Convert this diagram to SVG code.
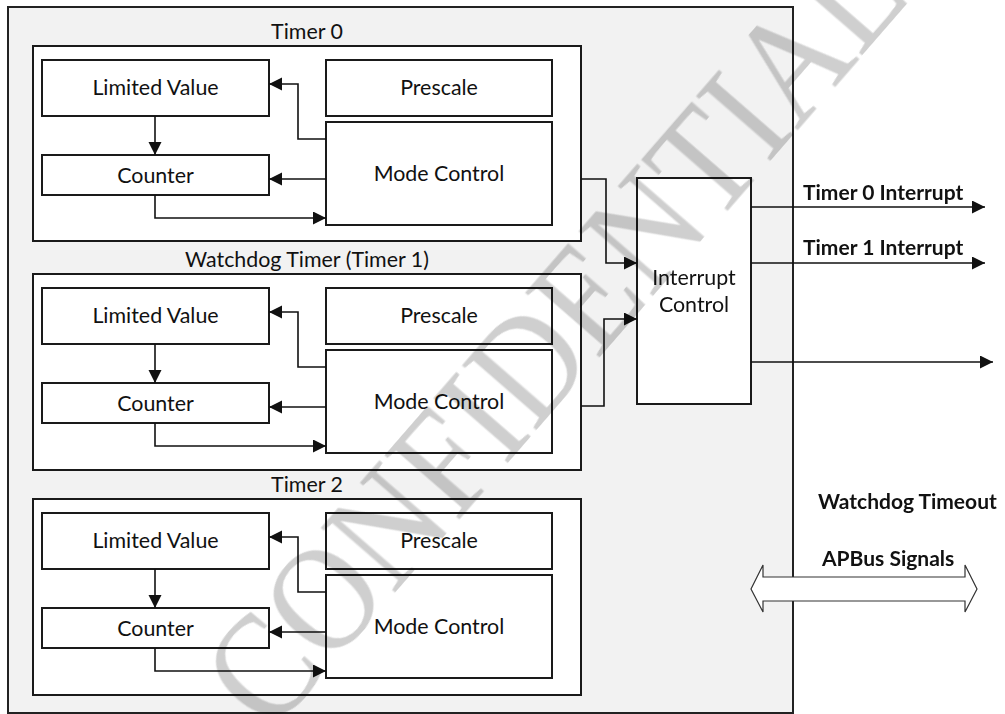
<svg xmlns="http://www.w3.org/2000/svg" width="1005" height="714" viewBox="0 0 1005 714">
  <style>
    .frame { fill: #f2f2f2; stroke: #222; stroke-width: 2; }
    .grp { fill: #ffffff; stroke: #1a1a1a; stroke-width: 2; }
    .blk { fill: #ffffff; stroke: #1a1a1a; stroke-width: 2; }
    .lbl { font-family: Lato, "Liberation Sans", sans-serif; font-size: 21.4px; fill: #111; text-anchor: middle; }
    .sig { font-family: Lato, "Liberation Sans", sans-serif; font-size: 21px; font-weight: bold; fill: #111; }
    .arr { fill: none; stroke: #111; stroke-width: 1.6; marker-end: url(#head); }
    .wm { font-family: "Liberation Serif", serif; font-size: 150px; fill: #cfcfcf; mix-blend-mode: multiply; }
  </style>
  <defs>
    <marker id="head" markerUnits="userSpaceOnUse" markerWidth="14" markerHeight="14" refX="13" refY="6.5" orient="auto">
      <path d="M0,0 L13,6.5 L0,13 z" fill="#111"/>
    </marker>
    <!-- one timer block: counter, limit register, prescaler, mode logic -->
    <g id="timerCore">
      <rect class="blk" x="42" y="60" width="227" height="56"/>
      <text class="lbl" x="155.5" y="95">Limited Value</text>
      <rect class="blk" x="42" y="155" width="227" height="40"/>
      <text class="lbl" x="155.5" y="182.5">Counter</text>
      <rect class="blk" x="326" y="60" width="226" height="56"/>
      <text class="lbl" x="439" y="95">Prescale</text>
      <rect class="blk" x="326" y="122" width="226" height="103"/>
      <text class="lbl" x="439" y="180.5">Mode Control</text>
      <path class="arr" d="M326,139 H298 V84 H269"/>
      <path class="arr" d="M326,179 H269"/>
      <path class="arr" d="M155,116 V155"/>
      <path class="arr" d="M155,195 V218 H326"/>
    </g>
  </defs>

  <!-- peripheral boundary -->
  <rect id="boundary" class="frame" x="8" y="7" width="785" height="706"/>

  <g id="timer0">
    <rect class="grp" x="33" y="46" width="548" height="195"/>
    <text class="lbl" x="307" y="39">Timer 0</text>
    <use href="#timerCore"/>
  </g>

  <g id="timer1">
    <rect class="grp" x="33" y="274" width="548" height="196"/>
    <text class="lbl" x="307" y="267">Watchdog Timer (Timer 1)</text>
    <use href="#timerCore" transform="translate(0,228)"/>
  </g>

  <g id="timer2">
    <rect class="grp" x="33" y="499" width="548" height="196"/>
    <text class="lbl" x="307" y="492">Timer 2</text>
    <use href="#timerCore" transform="translate(0,453)"/>
  </g>

  <g id="interruptControl">
    <rect class="blk" x="637" y="178" width="114" height="226"/>
    <text class="lbl" x="694" y="285">Interrupt</text>
    <text class="lbl" x="694" y="312">Control</text>
  </g>

  <g id="connectors">
    <path class="arr" d="M581,179 H606 V263 H637"/>
    <path class="arr" d="M581,406 H604 V319 H637"/>
    <path class="arr" d="M751,207 H985"/>
    <path class="arr" d="M751,263 H985"/>
    <path class="arr" d="M751,362 H993"/>
    <polygon points="751,589 763,565 763,577 965,577 965,565 977,589 965,612 965,601 763,601 763,612" fill="#ffffff" stroke="#333" stroke-width="1.2"/>
  </g>

  <g id="signals">
    <text class="sig" x="803" y="200">Timer 0 Interrupt</text>
    <text class="sig" x="803" y="255">Timer 1 Interrupt</text>
    <text class="sig" x="818" y="509">Watchdog Timeout</text>
    <text class="sig" x="822" y="566">APBus Signals</text>
  </g>

  <!-- document classification stamp -->
  <text class="wm" transform="translate(592,366) rotate(-49) scale(0.89,1)" text-anchor="middle">CONFIDENTIAL</text>
</svg>
